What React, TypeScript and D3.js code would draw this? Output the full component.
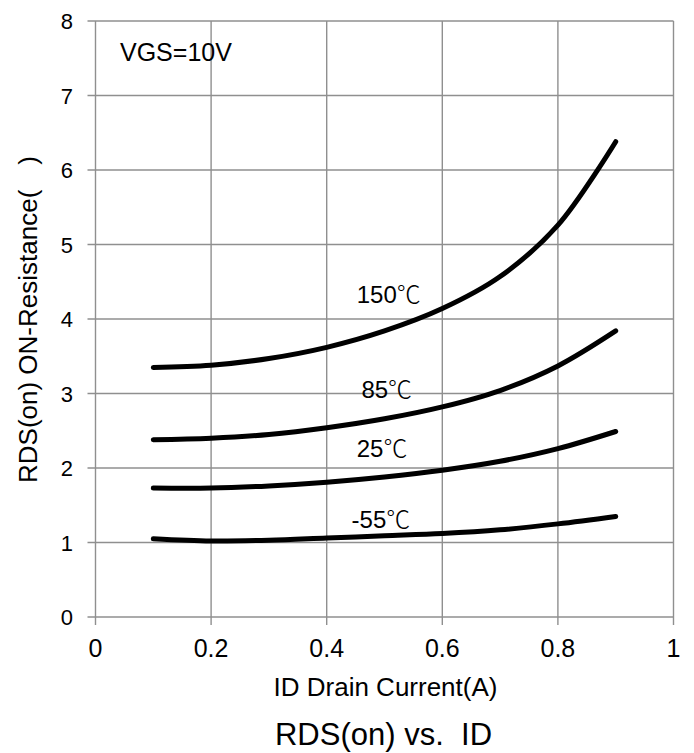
import React from "react";
import * as d3 from "d3";

const currents = [0.1, 0.2, 0.3, 0.4, 0.5, 0.6, 0.7, 0.8, 0.9];
const r150 = [3.35, 3.38, 3.47, 3.62, 3.84, 4.14, 4.57, 5.26, 6.38];
const r85 = [2.38, 2.4, 2.45, 2.54, 2.66, 2.82, 3.04, 3.37, 3.84];
const r25 = [1.73, 1.73, 1.76, 1.81, 1.88, 1.97, 2.09, 2.26, 2.49];
const rm55 = [1.05, 1.02, 1.03, 1.06, 1.09, 1.12, 1.17, 1.25, 1.35];
const seriesTemps = ["150", "85", "25", "-55"];
const degreeUnit = "℃";
const labelX = [0.452, 0.46, 0.452, 0.443];
const labelY = [4.21, 2.94, 2.15, 1.19];
const xTicks = [0, 0.2, 0.4, 0.6, 0.8, 1];
const yTicks = [0, 1, 2, 3, 4, 5, 6, 7, 8];

const W = 694;
const H = 753;
const FONT = "'Liberation Sans', Arial, 'Noto Sans CJK SC', sans-serif";
const CJK = "'Noto Sans CJK SC', 'Noto Sans CJK JP', sans-serif";

export default function App() {
  const x = d3.scaleLinear().domain([0, 1]).range([95.5, 673.5]);
  const y = d3.scaleLinear().domain([0, 8]).range([617, 21]);
  const series = [r150, r85, r25, rm55];
  const line = d3
    .line<number>()
    .x((_, i) => x(currents[i]))
    .y((d) => y(d))
    .curve(d3.curveCatmullRom.alpha(0.5));
  const grid = "#8f8f8f";
  return (
    <svg
      width={W}
      height={H}
      style={{ position: "absolute", left: 0, top: 0, background: "#fff" }}
      fontFamily={FONT}
    >
      <rect x={0} y={0} width={W} height={H} fill="#fff" />
      {yTicks.map((t) => (
        <g key={"y" + t}>
          <line x1={x(0) - 8} x2={x(1)} y1={y(t)} y2={y(t)} stroke={grid} strokeWidth={1.4} />
          <text x={73} y={y(t) + 8} textAnchor="end" fontSize={22} fill="#000">
            {t}
          </text>
        </g>
      ))}
      {xTicks.map((t) => (
        <g key={"x" + t}>
          <line x1={x(t)} x2={x(t)} y1={y(8)} y2={y(0) + 8} stroke={grid} strokeWidth={1.4} />
          <text x={x(t)} y={657} textAnchor="middle" fontSize={25} fill="#000">
            {t}
          </text>
        </g>
      ))}
      {series.map((s, i) => (
        <path
          key={"s" + i}
          d={line(s) || ""}
          fill="none"
          stroke="#000"
          strokeWidth={5}
          strokeLinecap="round"
          strokeLinejoin="round"
        />
      ))}
      {seriesTemps.map((n, i) => (
        <text key={"l" + i} x={x(labelX[i])} y={y(labelY[i])} fontSize={24} fill="#000">
          {n}
          <tspan fontFamily={CJK} fontWeight={300}>
            {degreeUnit}
          </tspan>
        </text>
      ))}
      <text x={120} y={61} fontSize={25} fill="#000">
        VGS=10V
      </text>
      <text transform={`translate(37, 483) rotate(-90)`} fontSize={26} fill="#000">
        RDS(on) ON-Resistance(<tspan dx={25}>)</tspan>
      </text>
      <text x={385.5} y={696} textAnchor="middle" fontSize={26} fill="#000">
        ID Drain Current(A)
      </text>
      <text x={383.5} y={745} textAnchor="middle" fontSize={31} fill="#000" xmlSpace="preserve">
        {"RDS(on) vs.\u00A0 ID"}
      </text>
    </svg>
  );
}
